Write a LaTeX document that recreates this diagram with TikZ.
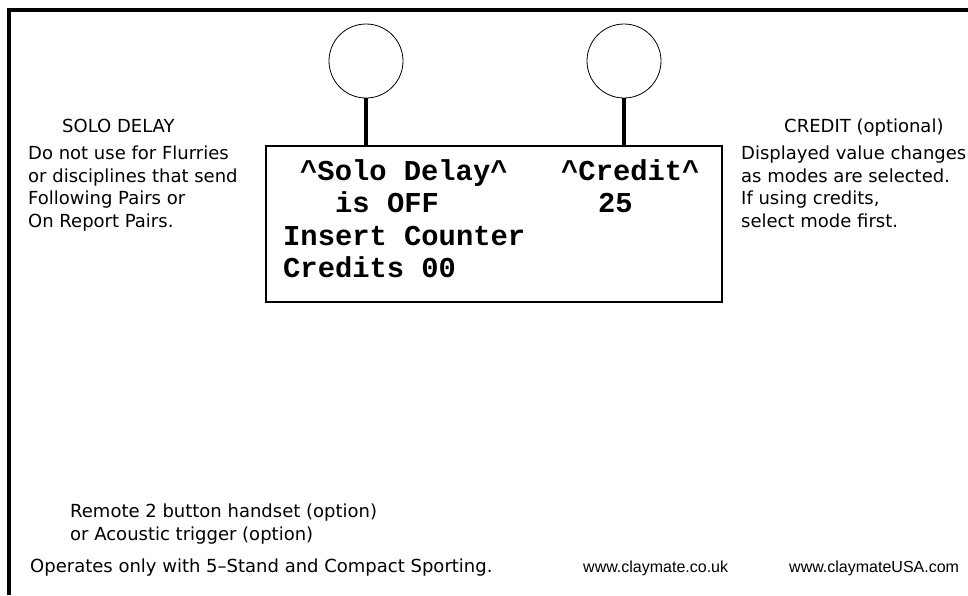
\documentclass[tikz,border=0pt]{standalone}
\usepackage{fontspec}
\newfontfamily\notefont{DejaVu Sans}
\newfontfamily\lcdfont{Liberation Mono}
\newfontfamily\webfont{Liberation Sans}
\usetikzlibrary{calc}

\begin{document}
\begin{tikzpicture}[x=1pt,y=-1pt,
   knob/.style={circle, draw, line width=0.8pt, minimum size=74pt, inner sep=0pt},
   lcd/.style={rectangle, draw, line width=2.6pt, minimum width=456pt, minimum height=156pt, inner sep=0pt},
   stem/.style={line width=3.5pt},
   lcdtext/.style={font=\lcdfont\bfseries\fontsize{28.8pt}{32pt}\selectfont, inner sep=0pt, anchor=base west},
   note/.style={font=\notefont\fontsize{18pt}{22.5pt}\selectfont, align=left, inner sep=0pt},
   web/.style={font=\webfont\fontsize{16pt}{18pt}\selectfont, inner sep=0pt, anchor=base west}]
  \useasboundingbox (0,0) rectangle (968,595);
  % frame
  \draw[line width=4pt] (9,595) -- (9,9.5) -- (968,9.5);
  % knobs and display
  \node[knob] (soloknob) at (366,61) {};
  \node[knob] (creditknob) at (624,61) {};
  \node[lcd] (lcd) at (494,224) {};
  \draw[stem] (soloknob.south) -- (soloknob.south |- lcd.north);
  \draw[stem] (creditknob.south) -- (creditknob.south |- lcd.north);
  \node[lcdtext] (solo) at (300,180) {\textasciicircum Solo Delay\textasciicircum};
  \node[lcdtext] (credit) at (561,180) {\textasciicircum Credit\textasciicircum};
  \node[lcdtext] (isoff) at (335,212) {is OFF};
  \node[lcdtext] (creditval) at (598,212) {25};
  \node[lcdtext] (insert) at (283,245) {Insert Counter};
  \node[lcdtext] (credits) at (283,277) {Credits 00};
  % notes
  \node[note, anchor=base west] (solohead) at (62,132) {SOLO DELAY};
  \node[note, anchor=north west] (solonote) at (28,146)
    {Do not use for Flurries\\or disciplines that send\\Following Pairs or\\On Report Pairs.};
  \node[note, anchor=base west] (credithead) at (784,132) {CREDIT (optional)};
  \node[note, anchor=north west] (creditnote) at (741,146)
    {Displayed value changes\\as modes are selected.\\If using credits,\\select mode first.};
  \node[note, anchor=north west] (remote) at (70,504)
    {Remote 2 button handset (option)\\or Acoustic trigger (option)};
  \node[note, anchor=base west] (operates) at (30,572) {Operates only with 5–Stand and Compact Sporting.};
  \node[web] (ukweb) at (583,572) {www.claymate.co.uk};
  \node[web] (usaweb) at (789,572) {www.claymateUSA.com};
\end{tikzpicture}
\end{document}
